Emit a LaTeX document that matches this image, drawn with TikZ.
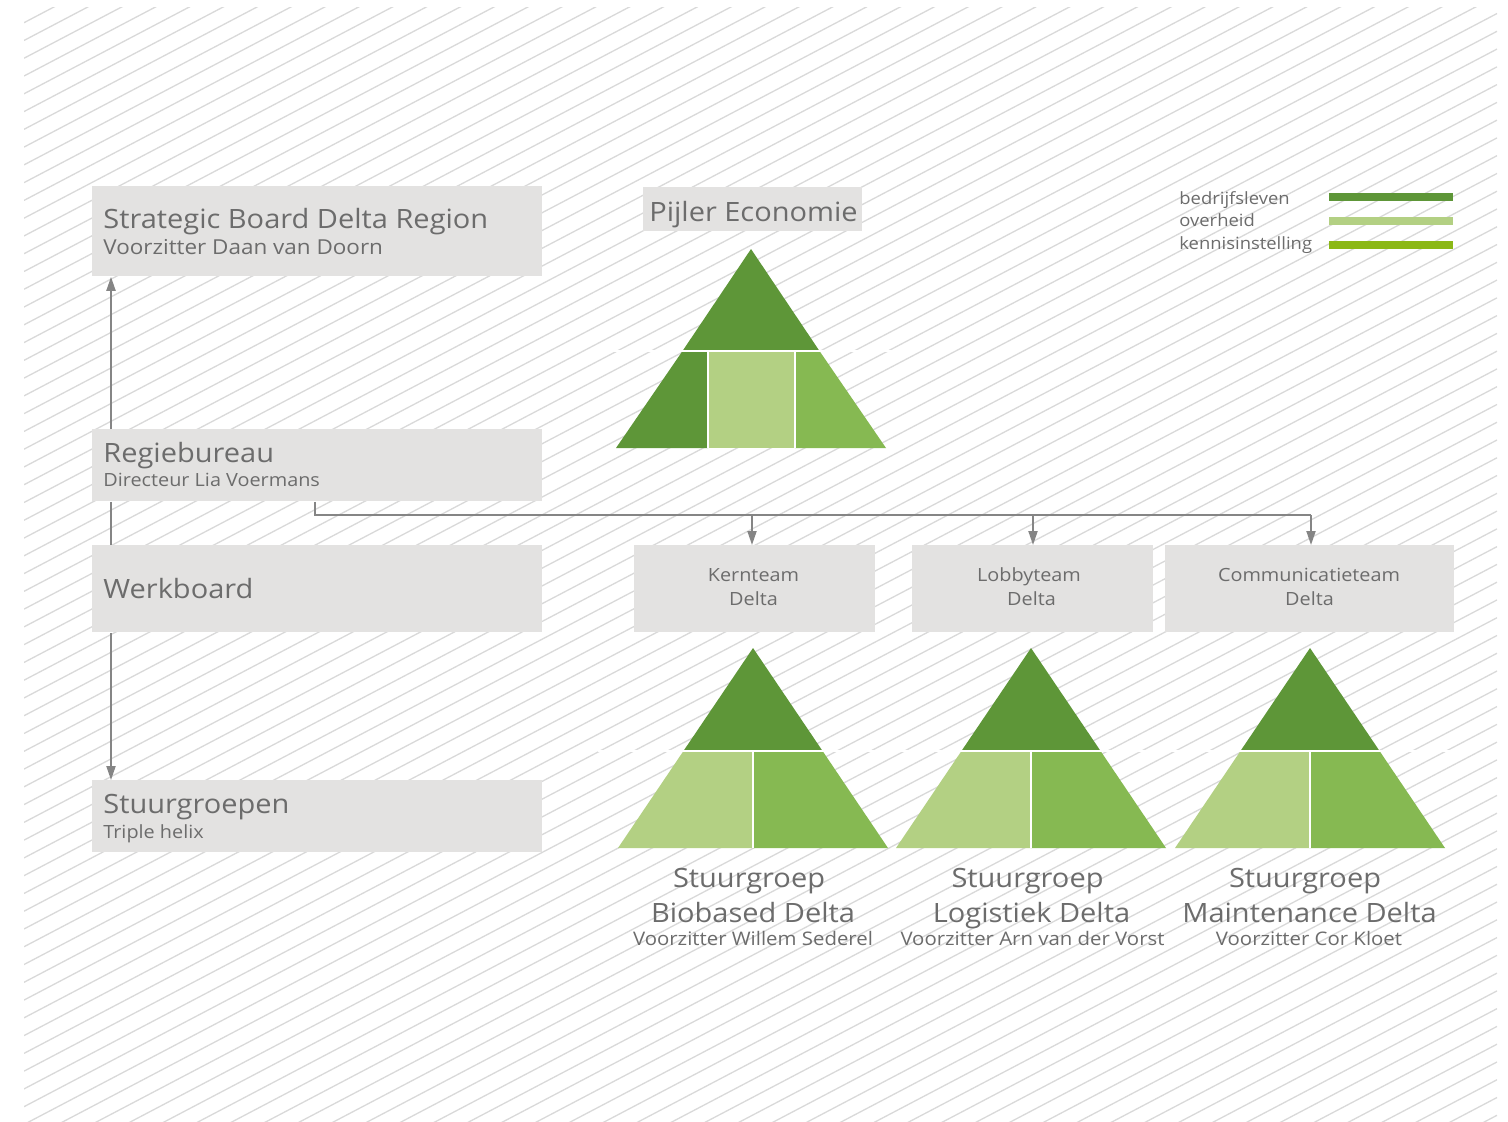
\documentclass[tikz,border=0pt]{standalone}
\usepackage{fontspec}
\setmainfont{Open Sans}[FakeStretch=1.09]
\usetikzlibrary{arrows.meta}
\definecolor{boxgray}{HTML}{E3E2E1}
\definecolor{txtgray}{HTML}{6C6C6C}
\definecolor{linegray}{HTML}{858585}
\definecolor{hatchgray}{HTML}{D9D9D9}
\definecolor{gdark}{HTML}{5E9638}
\definecolor{glight}{HTML}{B3D083}
\definecolor{gmid}{HTML}{86B952}
\definecolor{gbright}{HTML}{8BB816}
\begin{document}
\begin{tikzpicture}[x=0.5pt,y=-0.5pt,
  box/.style={fill=boxgray, inner sep=0pt, anchor=north west},
  conn/.style={draw=linegray, line width=1pt},
  arr/.style={conn, -{Triangle[length=7pt,width=4.5pt]}},
  big/.style={text=txtgray, inner sep=0pt, font=\fontsize{13.3pt}{16pt}\selectfont},
  small/.style={text=txtgray, inner sep=0pt, font=\fontsize{9.1pt}{12pt}\selectfont},
  sub/.style={text=txtgray, inner sep=0pt, anchor=base, font=\fontsize{9.35pt}{12pt}\selectfont},
  team/.style={text=txtgray, inner sep=0pt, anchor=base, font=\fontsize{9.1pt}{12pt}\selectfont},
  leg/.style={text=txtgray, inner sep=0pt, anchor=base west, font=\fontsize{8.45pt}{10pt}\selectfont},
  hatch/.style={draw=hatchgray, line width=0.65pt},
  gap/.style={draw=white, line width=1pt}
]
\useasboundingbox (0,0) rectangle (1508,1121);
\fill[white] (0,0) rectangle (1508,1121);
% hatch
\begin{scope}
  \clip (24,7) rectangle (1497,1121);
  \foreach \k in {-1,...,108}
    \draw[hatch] (24,{22.7+17.77*\k}) -- ++(1473,-773.3);
\end{scope}
% white bands behind pyramid splits
\draw[gap] (598,351) -- (905,351);
\draw[gap] (598,751) -- (1465,751);

% boxes
\node[box, minimum width=225pt, minimum height=45pt] (sb) at (92,186) {};
\node[box, minimum width=109.5pt, minimum height=22pt] (pe) at (643,187) {};
\node[box, minimum width=225pt, minimum height=36pt] (rb) at (92,429) {};
\node[box, minimum width=225pt, minimum height=43.5pt] (wb) at (92,545) {};
\node[box, minimum width=225pt, minimum height=36pt] (sg) at (92,780) {};
\node[box, minimum width=120.5pt, minimum height=43.5pt] (kt) at (634,545) {};
\node[box, minimum width=120.5pt, minimum height=43.5pt] (lt) at (912,545) {};
\node[box, minimum width=144.5pt, minimum height=43.5pt] (ct) at (1165,545) {};

% top pyramid
\begin{scope}[shift={(751,249)}]
  \fill[gdark] (0,0) -- (-68.5,102) -- (68.5,102) -- cycle;
  \fill[gdark] (-68.5,102) -- (-43,102) -- (-43,199) -- (-135,199) -- cycle;
  \fill[glight] (-43,102) -- (44,102) -- (44,199) -- (-43,199) -- cycle;
  \fill[gmid] (44,102) -- (68.5,102) -- (135,199) -- (44,199) -- cycle;
  \draw[gap] (-43,102) -- (-43,199);
  \draw[gap] (44,102) -- (44,199);
\end{scope}
\draw[gap] (600,351) -- (903,351);

% lower pyramids
\foreach \cx in {753,1031,1310}{
  \begin{scope}[shift={(\cx,648)}]
    \fill[gdark] (0,0) -- (-68.9,102) -- (68.9,102) -- cycle;
    \fill[glight] (-68.9,102) -- (0,102) -- (0,200) -- (-135,200) -- cycle;
    \fill[gmid] (0,102) -- (68.9,102) -- (135,200) -- (0,200) -- cycle;
    \draw[gap] (0,102) -- (0,200);
  \end{scope}
}
\draw[gap] (600,751) -- (1463,751);

% connectors
\coordinate (lx) at (111,0);
\coordinate (rx) at (315,0);
\coordinate (ka) at (752,515);
\coordinate (la) at (1033,515);
\coordinate (ca) at (1311,515);
\draw[arr] (rb.north -| lx) -- (sb.south -| lx);
\draw[conn] (rb.south -| lx) -- (wb.north -| lx);
\draw[arr] (wb.south -| lx) -- (sg.north -| lx);
\draw[conn] (rb.south -| rx) |- (ca);
\draw[arr] (ka) -- (ka |- kt.north);
\draw[arr] (la) -- (la |- lt.north);
\draw[arr] (ca) -- (ca |- ct.north);

% box texts
\node[big, anchor=base west] (sbt) at (103,228) {Strategic Board Delta Region};
\node[small, anchor=base west, font=\fontsize{10.3pt}{12pt}\selectfont] (sbs) at (103,254) {Voorzitter Daan van Doorn};
\node[big, anchor=base] (pet) at (753.5,221) {Pijler Economie};
\node[big, anchor=base west] (rbt) at (103,462) {Regiebureau};
\node[small, anchor=base west] (rbs) at (103,486) {Directeur Lia Voermans};
\node[big, anchor=base west] (wbt) at (103,598) {Werkboard};
\node[big, anchor=base west] (sgt) at (103,813) {Stuurgroepen};
\node[small, anchor=base west] (sgs) at (103,838) {Triple helix};
\node[team] (kt1) at (753.5,581) {Kernteam};
\node[team] (kt2) at (753.5,605) {Delta};
\node[team] (lt1) at (1029,581) {Lobbyteam};
\node[team] (lt2) at (1031.5,605) {Delta};
\node[team] (ct1) at (1309,581) {Communicatieteam};
\node[team] (ct2) at (1309.5,605) {Delta};

% pyramid labels
\node[big, anchor=base] (b1) at (749,887) {Stuurgroep};
\node[big, anchor=base] (b2) at (753,922) {Biobased Delta};
\node[sub] (b3) at (753,945) {Voorzitter Willem Sederel};
\node[big, anchor=base] (l1) at (1027.5,887) {Stuurgroep};
\node[big, anchor=base] (l2) at (1031.5,922) {Logistiek Delta};
\node[sub] (l3) at (1032.5,945) {Voorzitter Arn van der Vorst};
\node[big, anchor=base] (m1) at (1305,887) {Stuurgroep};
\node[big, anchor=base] (m2) at (1309.5,922) {Maintenance Delta};
\node[sub] (m3) at (1309,945) {Voorzitter Cor Kloet};

% legend
\node[leg] (lg1) at (1179,204) {bedrijfsleven};
\node[leg] (lg2) at (1179,226) {overheid};
\node[leg] (lg3) at (1179,249) {kennisinstelling};
\fill[gdark] (1329,193) rectangle (1453,201);
\fill[glight] (1329,217) rectangle (1453,225);
\fill[gbright] (1329,241) rectangle (1453,249);
\end{tikzpicture}
\end{document}
